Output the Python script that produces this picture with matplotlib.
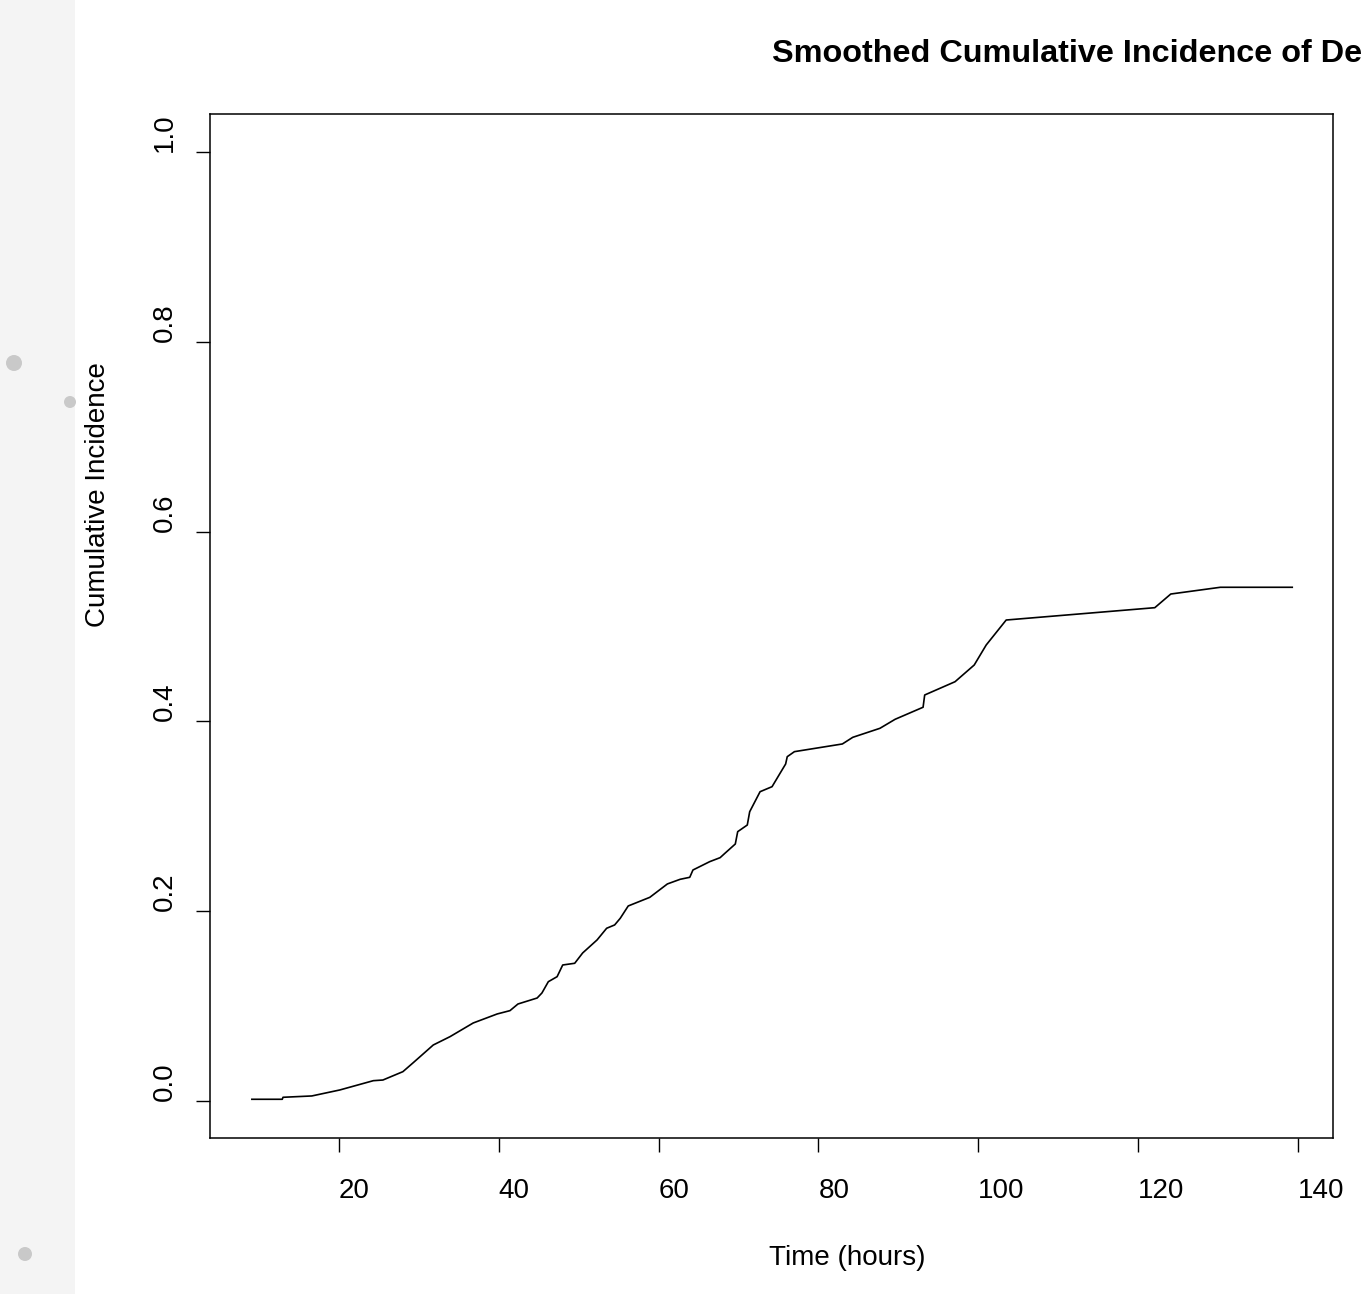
import matplotlib
matplotlib.use("Agg")
import matplotlib.pyplot as plt
from matplotlib.patches import Rectangle, Ellipse

plt.rcParams['font.family'] = ['Liberation Sans', 'DejaVu Sans']

# smoothed cumulative incidence
time_h = [9.1, 12.9, 13.0, 16.6, 20.1, 24.3, 25.5, 28.0, 29.3, 31.8, 33.9,
          36.8, 39.8, 41.4, 42.4, 44.8, 45.4, 46.2, 47.3, 48.0, 49.5, 50.5,
          52.3, 53.5, 54.5, 55.2, 56.2, 58.9, 61.1, 62.7, 63.9, 64.3, 66.4,
          67.7, 68.3, 69.6, 69.9, 71.1, 71.4, 72.7, 74.2, 75.2, 75.9, 76.1,
          77.0, 83.0, 84.3, 87.7, 89.6, 93.1, 93.3, 97.1, 99.5, 101.0, 103.5,
          122.1, 124.1, 130.3, 139.3]
cum_inc = [0.0018, 0.0018, 0.0039, 0.0053, 0.0116, 0.0214, 0.0221, 0.0309,
           0.0404, 0.0590, 0.0678, 0.0822, 0.0917, 0.0952, 0.1022, 0.1085,
           0.1138, 0.1257, 0.1310, 0.1433, 0.1451, 0.1560, 0.1697, 0.1820,
           0.1855, 0.1925, 0.2055, 0.2146, 0.2287, 0.2336, 0.2357, 0.2434,
           0.2522, 0.2564, 0.2610, 0.2708, 0.2838, 0.2908, 0.3048, 0.3259,
           0.3312, 0.3453, 0.3551, 0.3628, 0.3681, 0.3762, 0.3832, 0.3927,
           0.4022, 0.4149, 0.4278, 0.4418, 0.4594, 0.4805, 0.5068, 0.5198,
           0.5342, 0.5413, 0.5413]

x_ticks = [20, 40, 60, 80, 100, 120, 140]
y_ticks = [0.0, 0.2, 0.4, 0.6, 0.8, 1.0]

W, H = 1363, 1294
fig = plt.figure(figsize=(W / 100, H / 100), dpi=100)

# light grey strip on the left of the screenshot
fig.patches.append(Rectangle((0, 0), 75 / W, 1, transform=fig.transFigure,
                             facecolor='#f4f4f4', edgecolor='none', zorder=0))
for cx, cy, r in [(14, 363, 8), (70, 402, 6), (25, 1254, 7)]:
    fig.patches.append(Ellipse((cx / W, 1 - cy / H), 2 * r / W, 2 * r / H,
                               transform=fig.transFigure, facecolor='#c9c9c9',
                               edgecolor='none', zorder=1))

ax = fig.add_axes([210 / W, 1 - 1138 / H, 1123 / W, 1024 / H])
ax.plot(time_h, cum_inc, color='black', lw=1.2)

ax.set_xlim(3.86, 144.4)
ax.set_ylim(-0.039, 1.040)
ax.set_xticks(x_ticks)
ax.set_xticklabels([str(v) for v in x_ticks], ha='left')
ax.set_yticks(y_ticks)
ax.set_yticklabels([f"{v:.1f}" for v in y_ticks], rotation=90, va='bottom')
ax.tick_params(axis='both', direction='out', length=10, width=1, labelsize=20,
               color='black')
ax.tick_params(axis='x', pad=19)
ax.tick_params(axis='y', pad=13)
for s in ax.spines.values():
    s.set_linewidth(1.1)

fig.text(772 / W, 1 - 62 / H, "Smoothed Cumulative Incidence of Death",
         ha='left', va='baseline', fontsize=23.3, fontweight='bold')
fig.text(847 / W, 1 - 1258 / H, "Time (hours)", ha='center', va='center',
         fontsize=20)
fig.text(98 / W, 1 - 495 / H, "Cumulative Incidence", ha='center', va='center',
         rotation=90, fontsize=20)

fig.savefig("out.png", dpi=100)
